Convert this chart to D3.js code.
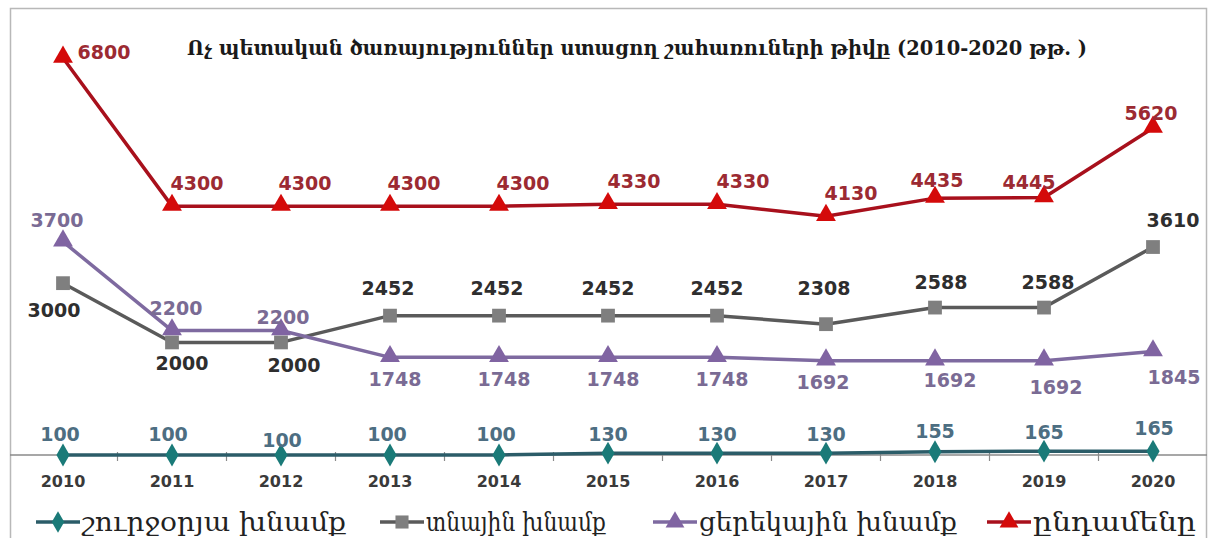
<!DOCTYPE html>
<html><head><meta charset="utf-8">
<script src="https://cdn.jsdelivr.net/npm/d3@7"></script>
<style>html,body{margin:0;padding:0;background:#fff;overflow:hidden}</style>
</head><body>
<svg id="c" width="1215" height="538"></svg>
<script>
// ---- data ----
const years = ["2010","2011","2012","2013","2014","2015","2016","2017","2018","2019","2020"];
const roundClock = [100,100,100,100,100,130,130,130,155,165,165];
const homeCare = [3000,2000,2000,2452,2452,2452,2452,2308,2588,2588,3610];
const dayCare = [3700,2200,2200,1748,1748,1748,1748,1692,1692,1692,1845];
const total = [6800,4300,4300,4300,4300,4330,4330,4130,4435,4445,5620];
const seriesNames = ["շուրջօրյա խնամք","տնային խնամք","ցերեկային խնամք","ընդամենը"];
const title = "Ոչ  պետական ծառայություններ ստացող շահառուների թիվը (2010-2020 թթ. )";

// ---- label placement (style) ----
const offTeal = [[-3,-21],[-4,-21],[1,-15],[-3,-21],[-3,-21],[0,-19],[0,-19],[0,-19],[0,-21],[0,-19],[1,-23]];
const offGray = [[-9,27],[10,21],[13,23],[-2,-28],[-2,-28],[0,-28],[0,-28],[-2,-36],[6,-26],[4,-26],[20,-27]];
const offPurple = [[-6,-22],[4,-23],[2,-14],[5,22],[5,22],[5,22],[5,22],[-3,21],[15,19],[12,26],[21,25]];
const offRed = [[41,-6],[25,-23],[24,-23],[24,-23],[24,-23],[26,-23],[26,-23],[25,-23],[2,-18],[-15,-16],[-2,-15]];

const svg = d3.select("#c");
const x = d3.scaleBand().domain(years).range([8.5, 1207.5]);
const y = d3.scaleLinear().domain([100, 6800]).range([455, 58]);
const cx = d => x(d) + x.bandwidth()/2;

// frame
svg.append("rect").attr("x",10.5).attr("y",8.5).attr("width",1196).attr("height",560)
  .attr("fill","#fff").attr("stroke","#b8b8b8").attr("stroke-width",1.5);

// x axis
const axisG = svg.append("g").attr("transform",`translate(0,${y(100)})`);
axisG.append("line").attr("x1",10).attr("x2",1207).attr("stroke","#8a8a8a").attr("stroke-width",1.5);
axisG.selectAll("line.tk").data(years.slice(1)).enter().append("line").attr("class","tk")
  .attr("x1",d=>x(d)).attr("x2",d=>x(d)).attr("y1",-3).attr("y2",6).attr("stroke","#8a8a8a").attr("stroke-width",1.2);
axisG.selectAll("text").data(years).enter().append("text")
  .attr("x",cx).attr("y",32).attr("text-anchor","middle")
  .attr("font-family","DejaVu Sans").attr("font-weight","bold").attr("font-size",16)
  .attr("fill","#3a3a3a").text(d=>d);

// title
svg.append("text").attr("x",637).attr("y",55).attr("text-anchor","middle")
  .attr("font-family","DejaVu Serif").attr("font-weight","bold").attr("font-size",21)
  .attr("fill","#1a1a1a").attr("textLength",900).attr("lengthAdjust","spacingAndGlyphs").text(title);

const series = [
  {vals: roundClock, line:"#2b5c68", mark:"#1a7a78", lab:"#4d6e82", shape:d3.symbolDiamond, size:150, off:offTeal},
  {vals: homeCare, line:"#5a5a5a", mark:"#7f7f7f", lab:"#2e2e2e", shape:d3.symbolSquare, size:190, off:offGray},
  {vals: dayCare, line:"#7e6aa0", mark:"#8064a2", lab:"#7a6b94", shape:d3.symbolTriangle, size:170, off:offPurple},
  {vals: total, line:"#a8101c", mark:"#d40a0a", lab:"#9c2a32", shape:d3.symbolTriangle, size:170, off:offRed}
];

const line = d3.line().x((d,i)=>cx(years[i])).y(d=>y(d));
series.forEach(s=>{
  svg.append("path").datum(s.vals).attr("d",line).attr("fill","none")
    .attr("stroke",s.line).attr("stroke-width",3.5).attr("stroke-linejoin","round");
});
series.forEach(s=>{
  svg.selectAll(null).data(s.vals).enter().append("path")
    .attr("d",d3.symbol().type(s.shape).size(s.size))
    .attr("transform",(d,i)=>`translate(${cx(years[i])},${y(d) + (s.shape===d3.symbolTriangle?-1:0)})`)
    .attr("fill",s.mark);
});
series.forEach(s=>{
  svg.selectAll(null).data(s.vals).enter().append("text")
    .attr("x",(d,i)=>cx(years[i])+s.off[i][0]).attr("y",(d,i)=>y(d)+s.off[i][1])
    .attr("text-anchor","middle").attr("dominant-baseline","central")
    .attr("font-family","DejaVu Sans").attr("font-weight","bold").attr("font-size",19)
    .attr("fill",s.lab).text(d=>d);
});

// legend
const legX = [36, 380, 653, 987];
const legW = [264, 180, 258, 163];
const legY = 522;
series.forEach((s,i)=>{
  const g = svg.append("g").attr("transform",`translate(${legX[i]},${legY})`);
  g.append("line").attr("x1",0).attr("x2",44).attr("stroke",s.line).attr("stroke-width",3.5);
  g.append("path").attr("d",d3.symbol().type(s.shape).size(s.size*0.9)).attr("transform","translate(22,0)").attr("fill",s.mark);
  g.append("text").attr("x",46).attr("y",9).attr("font-family","DejaVu Serif").attr("font-size",26)
    .attr("fill","#222").attr("textLength",legW[i]).attr("lengthAdjust","spacingAndGlyphs").text(seriesNames[i]);
});
</script>
</body></html>
